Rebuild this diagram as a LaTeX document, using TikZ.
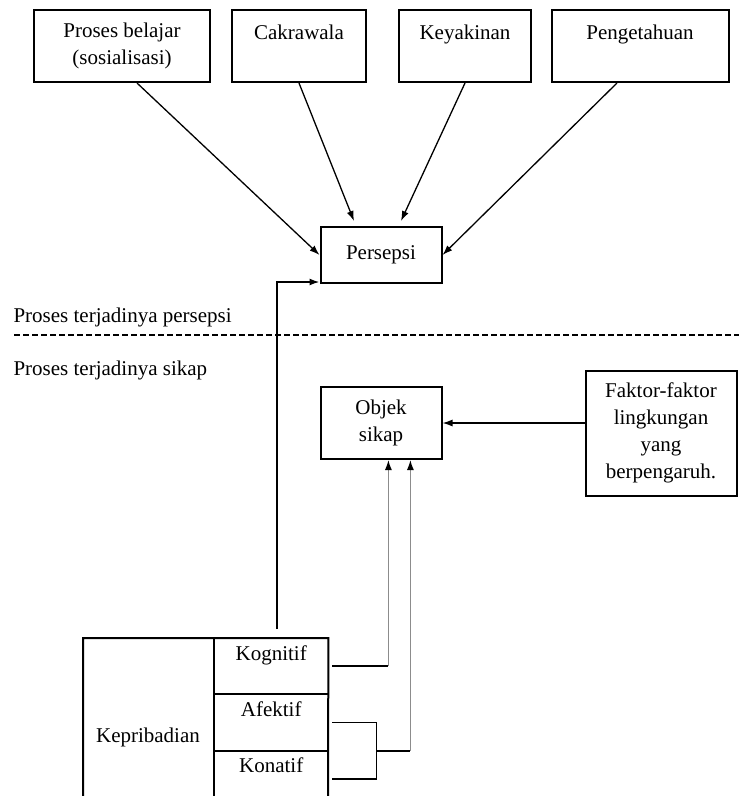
\documentclass[tikz,border=0pt]{standalone}
\usepackage{fontspec}
\setmainfont{Liberation Serif}
\usetikzlibrary{arrows.meta,positioning,calc}
\tikzset{
    box/.style={draw, line width=2pt, align=center, inner sep=0pt},
    cell/.style={align=center, inner sep=0pt, minimum width=114, minimum height=56},
    arrow/.style={-{Latex[length=10pt,width=7pt,black]}, line width=1.3pt},
    frame/.style={line width=2pt},
    greyline/.style={draw=black!45, line width=2pt},
}
\begin{document}
\begin{tikzpicture}[x=1pt,y=-1pt,font=\fontsize{21}{27}\selectfont]
    \useasboundingbox (0,0) rectangle (739,796);

    % upper part: perception
    \begin{scope}
    \node[box, minimum width=176, minimum height=72] (belajar) at (122,46) {Proses belajar\\(sosialisasi)};
    \node[box, minimum width=134, minimum height=72] (cakrawala) at (299,46) {Cakrawala\\\mbox{}};
    \node[box, minimum width=132, minimum height=72] (keyakinan) at (465,46) {Keyakinan\\\mbox{}};
    \node[box, minimum width=177, minimum height=72] (pengetahuan) at (640,46) {Pengetahuan\\\mbox{}};
    \node[box, minimum width=121, minimum height=56] (persepsi) at (381,255) {Persepsi};

    \draw[arrow] ([xshift=15]belajar.south) -- (persepsi.west);
    \draw[arrow] (cakrawala.south) -- ([xshift=-27,yshift=5]persepsi.north);
    \draw[arrow] (keyakinan.south) -- ([xshift=20,yshift=5]persepsi.north);
    \draw[arrow] ([xshift=-23]pengetahuan.south) -- (persepsi.east);
    \end{scope}

    % separator
    \node[anchor=west] (lblpersepsi) at (10,317) {Proses terjadinya persepsi};
    \node[anchor=west] (lblsikap) at (10,370) {Proses terjadinya sikap};
    \draw[line width=1.3pt, dash pattern=on 6pt off 3pt] (14,335) -- (739,335);

    % lower part: attitude
    \begin{scope}
    \node[box, minimum width=121, minimum height=72] (objek) at (381,423) {Objek\\sikap};
    \node[box, minimum width=151, minimum height=125] (faktor) at (661,433) {Faktor-faktor\\lingkungan\\yang\\berpengaruh.};
    \draw[arrow] (faktor.west |- objek.east) -- (objek.east);

    \node[cell, anchor=north west] (kognitif) at (214,638) {Kognitif\\\mbox{}};
    \node[cell, below=0pt of kognitif] (afektif) {Afektif\\\mbox{}};
    \node[cell, below=0pt of afektif] (konatif) {Konatif\\\mbox{}};
    \node (kepribadian) at (148,737) {Kepribadian};

    \draw[frame] (83,796) |- (kognitif.north east) -- (328,796);
    \draw[frame] (kognitif.north west) -- (214,796);
    \draw[frame] (kognitif.south west) -- (kognitif.south east);
    \draw[frame] (afektif.south west) -- (afektif.south east);

    % links
    \coordinate (feed) at (277,629);
    \draw[arrow, line width=1.6pt] (feed) |- ([yshift=2]persepsi.south west);

    \coordinate (kogturn) at ([xshift=60]kognitif.east);
    \draw[line width=1.6pt] ([xshift=4]kognitif.east) -- (kogturn);
    \draw[greyline, arrow] (kogturn) -- (kogturn |- objek.south);

    \coordinate (bracket) at ([xshift=48]$(afektif.east)!0.5!(konatif.east)$);
    \draw[line width=1.6pt] ([xshift=4]afektif.east) -| (bracket) |- ([xshift=4]konatif.east);
    \coordinate (afturn) at ([xshift=34]bracket);
    \draw[line width=1.6pt] (bracket) -- (afturn);
    \draw[greyline, arrow] (afturn) -- (afturn |- objek.south);
    \end{scope}
\end{tikzpicture}
\end{document}
